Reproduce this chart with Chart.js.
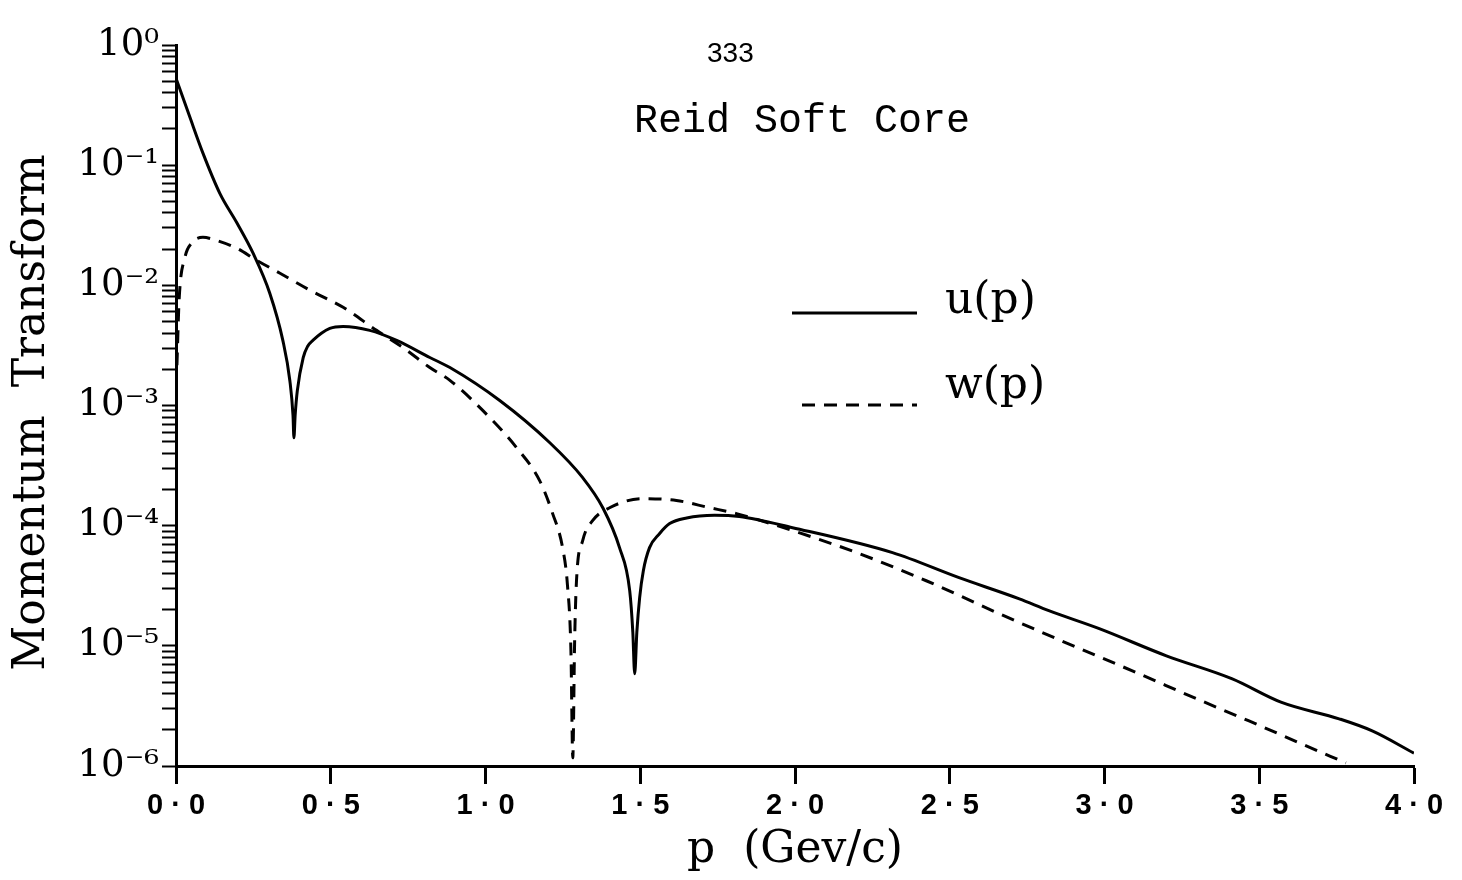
<!DOCTYPE html>
<html><head><meta charset="utf-8">
<script src="https://cdn.jsdelivr.net/npm/chart.js@4/dist/chart.umd.min.js"></script>
<style>html,body{margin:0;padding:0;background:#fff;}#wrap{width:1462px;height:880px;}</style>
</head><body><div id="wrap"><canvas id="c" width="1462" height="880"></canvas></div>
<script>
// ---- data ----
const uP    = [0.00, 0.045, 0.087, 0.142, 0.197, 0.249, 0.303, 0.345, 0.368, 0.378, 0.381, 0.385, 0.392, 0.411, 0.425, 0.443, 0.497, 0.54, 0.626, 0.713, 0.82, 0.885, 1.046, 1.207, 1.314, 1.379, 1.433, 1.466, 1.476, 1.482, 1.489, 1.498, 1.51, 1.53, 1.562, 1.595, 1.65, 1.74, 1.82, 1.992, 2.315, 2.53, 2.725, 2.82, 2.983, 3.2, 3.413, 3.57, 3.758, 3.865, 4.0];
const uVals = [5.3e-1, 2.5e-1, 1.26e-1, 5.8e-2, 3.3e-2, 1.85e-2, 8.6e-3, 3.5e-3, 1.6e-3, 8.3e-4, 5.4e-4, 8.3e-4, 1.33e-3, 2.5e-3, 3.1e-3, 3.5e-3, 4.38e-3, 4.55e-3, 4.22e-3, 3.48e-3, 2.51e-3, 2.07e-3, 1.10e-3, 4.92e-4, 2.51e-4, 1.41e-4, 6.56e-5, 2.87e-5, 1.3e-5, 5.85e-6, 1.3e-5, 2.51e-5, 4.22e-5, 6.56e-5, 8.57e-5, 1.04e-4, 1.16e-4, 1.22e-4, 1.19e-4, 9.62e-5, 5.96e-5, 3.69e-5, 2.46e-5, 1.96e-5, 1.39e-5, 8.26e-6, 5.31e-6, 3.4e-6, 2.47e-6, 1.96e-6, 1.28e-6];
const wP    = [0.003, 0.01, 0.029, 0.05, 0.087, 0.13, 0.197, 0.26, 0.336, 0.433, 0.54, 0.648, 0.733, 0.82, 0.885, 0.991, 1.1, 1.175, 1.217, 1.249, 1.265, 1.276, 1.282, 1.288, 1.294, 1.314, 1.346, 1.401, 1.508, 1.617, 1.724, 1.811, 1.992, 2.208, 2.424, 2.66, 2.876, 3.09, 3.306, 3.467, 3.629, 3.78];
const wVals = [2.16e-3, 7.5e-3, 1.71e-2, 2.24e-2, 2.51e-2, 2.37e-2, 2.03e-2, 1.62e-2, 1.26e-2, 9.1e-3, 6.56e-3, 4.22e-3, 3.04e-3, 2.07e-3, 1.62e-3, 9.1e-4, 4.47e-4, 2.37e-4, 1.26e-4, 6.56e-5, 3.16e-5, 9.1e-6, 1.17e-6, 1.1e-5, 3.48e-5, 7.5e-5, 1.1e-4, 1.41e-4, 1.68e-4, 1.62e-4, 1.41e-4, 1.26e-4, 9.1e-5, 5.85e-5, 3.48e-5, 1.85e-5, 1.06e-5, 6.19e-6, 3.55e-6, 2.37e-6, 1.56e-6, 1.06e-6];
const seriesNames = ['u(p)', 'w(p)'];
const xTickValues = [0, 0.5, 1.0, 1.5, 2.0, 2.5, 3.0, 3.5, 4.0];
const xTickLabels = ['0 · 0', '0 · 5', '1 · 0', '1 · 5', '2 · 0', '2 · 5', '3 · 0', '3 · 5', '4 · 0'];
const yDecadeExps = [-6, -5, -4, -3, -2, -1, 0];
const yTickLabels = ['10⁻⁶', '10⁻⁵', '10⁻⁴', '10⁻³', '10⁻²', '10⁻¹', '10⁰'];
const yMinorMultiples = [2, 3, 4, 5, 6, 7, 8, 9];
const xTitle = 'p  (Gev/c)';
const yTitle = 'Momentum  Transform ';
const chartTitle = 'Reid Soft Core';
const pageNumber = '333';

const toPts = (xs, ys) => xs.map((x, i) => ({x: x, y: ys[i]}));

const decorPlugin = {
  id: 'decor',
  beforeDraw(chart) {
    const c = chart.ctx;
    c.save(); c.fillStyle = '#fff'; c.fillRect(0, 0, chart.width, chart.height); c.restore();
  },
  afterDraw(chart) {
    const c = chart.ctx;
    c.save();
    c.fillStyle = '#000';
    c.textAlign = 'left';
    c.textBaseline = 'alphabetic';
    c.font = '28px "Liberation Sans", sans-serif';
    c.fillText(pageNumber, 707, 62);
    c.font = '40px "Liberation Mono", monospace';
    c.fillText(chartTitle, 634, 132);
    // legend
    const items = [{y: 313, ty: 313, x0: 792}, {y: 405, ty: 398, x0: 802}];
    chart.data.datasets.forEach((ds, i) => {
      const it = items[i];
      c.beginPath();
      c.lineWidth = ds.borderWidth;
      c.strokeStyle = ds.borderColor;
      c.setLineDash(ds.borderDash || []);
      c.moveTo(it.x0, it.y); c.lineTo(917, it.y);
      c.stroke();
      c.setLineDash([]);
      c.font = '44px "DejaVu Serif", serif';
      c.fillText(ds.label, 945, it.ty);
    });
    c.restore();
  }
};

new Chart(document.getElementById('c'), {
  type: 'line',
  data: {
    datasets: [
      {label: seriesNames[0], data: toPts(uP, uVals), borderColor: '#000', borderWidth: 3, pointRadius: 0, fill: false, cubicInterpolationMode: 'monotone'},
      {label: seriesNames[1], data: toPts(wP, wVals), borderColor: '#000', borderWidth: 3, borderDash: [13, 9], pointRadius: 0, fill: false, cubicInterpolationMode: 'monotone'}
    ]
  },
  options: {
    responsive: false,
    animation: false,
    events: [],
    layout: {padding: {top: 45, right: 48, left: 0, bottom: 0}},
    plugins: {legend: {display: false}, tooltip: {enabled: false}, title: {display: false}},
    scales: {
      x: {
        type: 'linear', min: 0, max: 4,
        afterFit(s) { s.height = 114; },
        afterBuildTicks(s) { s.ticks = xTickValues.map(v => ({value: v})); },
        border: {display: true, color: '#000', width: 3},
        grid: {drawOnChartArea: false, drawTicks: true, tickLength: 18, tickColor: '#000', tickWidth: 3},
        ticks: {
          autoSkip: false, maxRotation: 0, padding: 5, color: '#000',
          font: {family: '"Liberation Sans", sans-serif', size: 29, weight: 'bold'},
          callback: (v, i) => xTickLabels[i]
        },
        title: {display: true, text: xTitle, color: '#000', font: {family: '"DejaVu Serif", serif', size: 44}, padding: {top: 0, bottom: 3}}
      },
      y: {
        type: 'logarithmic', min: 1e-6, max: 1,
        afterFit(s) { s.width = 176; },
        afterBuildTicks(s) {
          const t = [];
          yDecadeExps.forEach(e => {
            t.push({value: Math.pow(10, e), major: true});
            if (e < 0) yMinorMultiples.forEach(m => t.push({value: m * Math.pow(10, e)}));
          });
          s.ticks = t;
        },
        border: {display: true, color: '#000', width: 3},
        grid: {drawOnChartArea: false, drawTicks: true, tickLength: 14, tickColor: '#000', tickWidth: 2},
        ticks: {
          autoSkip: false, padding: 3, color: '#000',
          font: {family: '"DejaVu Serif", serif', size: 37},
          callback: (v) => {
            const e = Math.round(Math.log10(v));
            if (Math.abs(v / Math.pow(10, e) - 1) < 1e-6) return yTickLabels[yDecadeExps.indexOf(e)];
            return '';
          }
        },
        title: {display: true, text: yTitle, color: '#000', font: {family: '"DejaVu Serif", serif', size: 44}, padding: {top: 6, bottom: 0}}
      }
    }
  },
  plugins: [decorPlugin]
});
</script></body></html>
